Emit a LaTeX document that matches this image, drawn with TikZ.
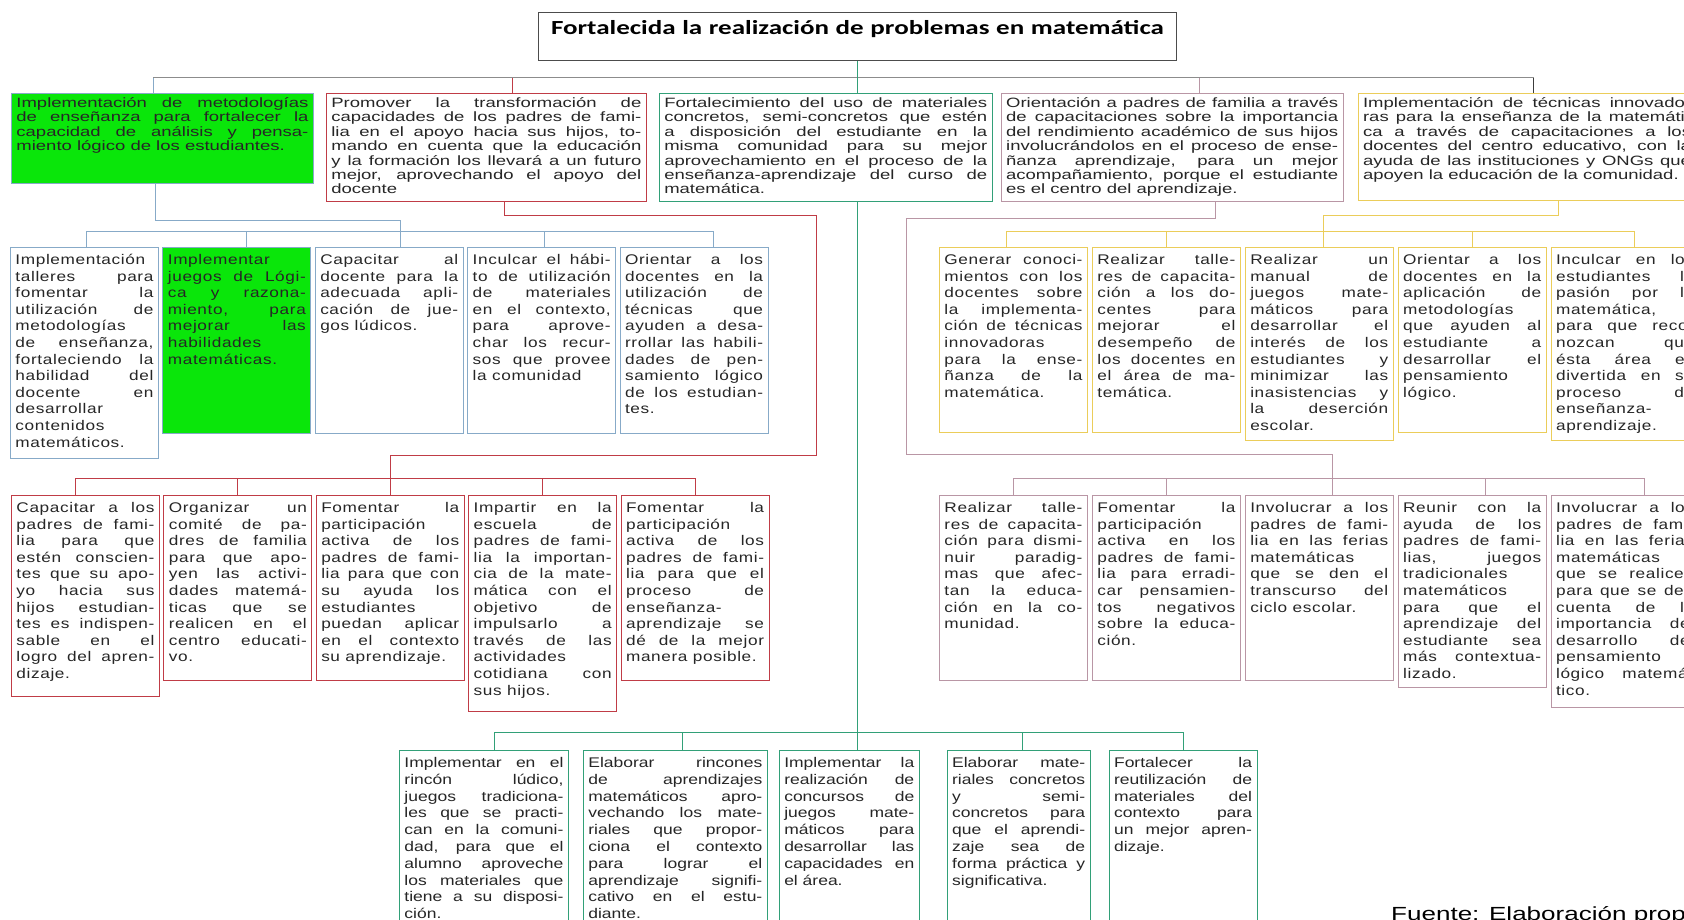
\documentclass[tikz,border=0pt]{standalone}
\usepackage{fontspec}
\setmainfont{Liberation Sans}
\newfontfamily\topfont{Liberation Sans}[FakeStretch=1.37]
\newfontfamily\midfont{Liberation Sans}[FakeStretch=1.23,LetterSpace=4.5]
\newfontfamily\lowfont{Liberation Sans}[FakeStretch=1.25]
\newfontfamily\titlefont{Carlito}[FakeStretch=1.35]
\usepackage{xcolor}
\usepackage{tikz}
\usetikzlibrary{positioning}
\definecolor{blueline}{RGB}{135,170,200}
\definecolor{redline}{RGB}{192,60,70}
\definecolor{tealline}{RGB}{50,160,120}
\definecolor{mauveline}{RGB}{185,150,165}
\definecolor{yellowline}{RGB}{235,205,90}
\definecolor{darkline}{RGB}{60,60,60}
\definecolor{busgray}{RGB}{140,140,140}
\definecolor{fillgreen}{RGB}{10,230,10}
\hyphenpenalty=10000
\exhyphenpenalty=10000
\tolerance=10000
\hbadness=10000
\tikzstyle{plainbox} = [rectangle, draw, anchor=north west, align=justify,
    inner xsep=5pt, inner ysep=5pt, text height=12pt, text=black!85, line width=0.9pt]
\tikzstyle{titlebox} = [rectangle, draw=black!70, anchor=north west, align=center,
    text width=628pt, inner xsep=5pt, inner ysep=4pt, text height=18pt, text depth=22pt,
    font=\titlefont\fontsize{20}{24}\selectfont\bfseries, line width=0.9pt]
\tikzstyle{toprow} = [plainbox, inner ysep=4pt, text height=10pt,
    font=\topfont\fontsize{13.5}{14.4}\selectfont]
\tikzstyle{midrow} = [plainbox, font=\midfont\fontsize{14}{16.6}\selectfont]
\tikzstyle{lowrow} = [plainbox, font=\lowfont\fontsize{14}{16.8}\selectfont]
\tikzstyle{bluebox} = [draw=blueline]
\tikzstyle{fillbox} = [draw=blueline, fill=fillgreen]
\tikzstyle{redbox} = [draw=redline]
\tikzstyle{tealbox} = [draw=tealline]
\tikzstyle{mauvebox} = [draw=mauveline]
\tikzstyle{yellowbox} = [draw=yellowline]
\tikzstyle{sourcenote} = [anchor=base west, inner sep=0pt, font=\topfont\fontsize{19}{22}\selectfont]
\tikzstyle{linkline} = [draw, line width=1pt]
\tikzstyle{graylink} = [linkline, draw=busgray]
\tikzstyle{bluelink} = [linkline, draw=blueline]
\tikzstyle{redlink} = [linkline, draw=redline]
\tikzstyle{greenlink} = [linkline, draw=tealline]
\tikzstyle{mauvelink} = [linkline, draw=mauveline]
\tikzstyle{yellowlink} = [linkline, draw=yellowline]
\tikzstyle{darklink} = [linkline, draw=darkline]

\begin{document}
\begin{tikzpicture}[x=1pt, y=-1pt, node distance=4pt, auto]
  \useasboundingbox (0,0) rectangle (1684,920);
  \clip (0,0) rectangle (1684,920);
  \fill [white] (0,0) rectangle (1684,920);

  % Place nodes
  \node [titlebox] (title) at (538,12) {Fortalecida la realización de problemas en matemática};

  \node [toprow, fillbox, text width=292pt, text depth=72pt] (b1) at (11,93)
    {Implementación de metodologías\linebreak de enseñanza para fortalecer la\linebreak
     capacidad de análisis y pensa-\linebreak miento lógico de los estudiantes.};
  \node [toprow, redbox, text width=310pt, text depth=90pt, below right=0pt and 12pt of b1.north east] (b2)
    {Promover la transformación de\linebreak capacidades de los padres de fami-\linebreak
     lia en el apoyo hacia sus hijos, to-\linebreak mando en cuenta que la educación\linebreak
     y la formación los llevará a un futuro\linebreak mejor, aprovechando el apoyo del\linebreak docente};
  \node [toprow, tealbox, text width=323pt, text depth=90pt, below right=0pt and 12pt of b2.north east] (b3)
    {Fortalecimiento del uso de materiales\linebreak concretos, semi-concretos que estén\linebreak
     a disposición del estudiante en la\linebreak misma comunidad para su mejor\linebreak
     aprovechamiento en el proceso de la\linebreak enseñanza-aprendizaje del curso de\linebreak matemática.};
  \node [toprow, mauvebox, text width=332pt, text depth=90pt, below right=0pt and 8pt of b3.north east] (b4)
    {Orientación a padres de familia a través\linebreak de capacitaciones sobre la importancia\linebreak
     del rendimiento académico de sus hijos\linebreak involucrándolos en el proceso de ense-\linebreak
     ñanza aprendizaje, para un mejor\linebreak acompañamiento, porque el estudiante\linebreak
     es el centro del aprendizaje.};
  \node [toprow, yellowbox, text width=328pt, text depth=89pt, below right=0pt and 14pt of b4.north east] (b5)
    {Implementación de técnicas innovado-\linebreak ras para la enseñanza de la matemáti-\linebreak
     ca a través de capacitaciones a los\linebreak docentes del centro educativo, con la\linebreak
     ayuda de las instituciones y ONGs que\linebreak apoyen la educación de la comunidad.};

  \node [midrow, bluebox, text width=138pt, text depth=189pt] (l1) at (10,247)
    {Implementación\linebreak talleres para\linebreak fomentar la\linebreak utilización de\linebreak
     metodologías\linebreak de enseñanza,\linebreak fortaleciendo la\linebreak habilidad del\linebreak
     docente en\linebreak desarrollar\linebreak contenidos\linebreak matemáticos.};
  \node [midrow, fillbox, text width=138pt, text depth=164pt, below right=0pt and 3.5pt of l1.north east] (l2)
    {Implementar\linebreak juegos de Lógi-\linebreak ca y razona-\linebreak miento, para\linebreak
     mejorar las\linebreak habilidades\linebreak matemáticas.};
  \node [midrow, bluebox, text width=138pt, text depth=164pt, below right=0pt and 3.5pt of l2.north east] (l3)
    {Capacitar al\linebreak docente para la\linebreak adecuada apli-\linebreak cación de jue-\linebreak gos lúdicos.};
  \node [midrow, bluebox, text width=138pt, text depth=164pt, below right=0pt and 3.5pt of l3.north east] (l4)
    {Inculcar el hábi-\linebreak to de utilización\linebreak de materiales\linebreak en el contexto,\linebreak
     para aprove-\linebreak char los recur-\linebreak sos que provee\linebreak la comunidad};
  \node [midrow, bluebox, text width=138pt, text depth=164pt, below right=0pt and 3.5pt of l4.north east] (l5)
    {Orientar a los\linebreak docentes en la\linebreak utilización de\linebreak técnicas que\linebreak
     ayuden a desa-\linebreak rrollar las habili-\linebreak dades de pen-\linebreak samiento lógico\linebreak
     de los estudian-\linebreak tes.};

  \node [midrow, yellowbox, text width=138pt, text depth=163pt] (r1) at (939,247)
    {Generar conoci-\linebreak mientos con los\linebreak docentes sobre\linebreak la implementa-\linebreak
     ción de técnicas\linebreak innovadoras\linebreak para la ense-\linebreak ñanza de la\linebreak matemática.};
  \node [midrow, yellowbox, text width=138pt, text depth=163pt, below right=0pt and 4pt of r1.north east] (r2)
    {Realizar talle-\linebreak res de capacita-\linebreak ción a los do-\linebreak centes para\linebreak
     mejorar el\linebreak desempeño de\linebreak los docentes en\linebreak el área de ma-\linebreak temática.};
  \node [midrow, yellowbox, text width=138pt, text depth=171pt, below right=0pt and 4pt of r2.north east] (r3)
    {Realizar un\linebreak manual de\linebreak juegos mate-\linebreak máticos para\linebreak
     desarrollar el\linebreak interés de los\linebreak estudiantes y\linebreak minimizar las\linebreak
     inasistencias y\linebreak la deserción\linebreak escolar.};
  \node [midrow, yellowbox, text width=138pt, text depth=163pt, below right=0pt and 4pt of r3.north east] (r4)
    {Orientar a los\linebreak docentes en la\linebreak aplicación de\linebreak metodologías\linebreak
     que ayuden al\linebreak estudiante a\linebreak desarrollar el\linebreak pensamiento\linebreak lógico.};
  \node [midrow, yellowbox, text width=138pt, text depth=171pt, below right=0pt and 4pt of r4.north east] (r5)
    {Inculcar en los\linebreak estudiantes la\linebreak pasión por la\linebreak matemática,\linebreak
     para que reco-\linebreak nozcan que\linebreak ésta área es\linebreak divertida en su\linebreak
     proceso de\linebreak enseñanza-\linebreak aprendizaje.};

  \node [midrow, redbox, text width=138pt, text depth=179pt] (e1) at (11,495)
    {Capacitar a los\linebreak padres de fami-\linebreak lia para que\linebreak estén conscien-\linebreak
     tes que su apo-\linebreak yo hacia sus\linebreak hijos estudian-\linebreak tes es indispen-\linebreak
     sable en el\linebreak logro del apren-\linebreak dizaje.};
  \node [midrow, redbox, text width=138pt, text depth=163pt, below right=0pt and 3.5pt of e1.north east] (e2)
    {Organizar un\linebreak comité de pa-\linebreak dres de familia\linebreak para que apo-\linebreak
     yen las activi-\linebreak dades matemá-\linebreak ticas que se\linebreak realicen en el\linebreak
     centro educati-\linebreak vo.};
  \node [midrow, redbox, text width=138pt, text depth=163pt, below right=0pt and 3.5pt of e2.north east] (e3)
    {Fomentar la\linebreak participación\linebreak activa de los\linebreak padres de fami-\linebreak
     lia para que con\linebreak su ayuda los\linebreak estudiantes\linebreak puedan aplicar\linebreak
     en el contexto\linebreak su aprendizaje.};
  \node [midrow, redbox, text width=138pt, text depth=194pt, below right=0pt and 3.5pt of e3.north east] (e4)
    {Impartir en la\linebreak escuela de\linebreak padres de fami-\linebreak lia la importan-\linebreak
     cia de la mate-\linebreak mática con el\linebreak objetivo de\linebreak impulsarlo a\linebreak
     través de las\linebreak actividades\linebreak cotidiana con\linebreak sus hijos.};
  \node [midrow, redbox, text width=138pt, text depth=163pt, below right=0pt and 3.5pt of e4.north east] (e5)
    {Fomentar la\linebreak participación\linebreak activa de los\linebreak padres de fami-\linebreak
     lia para que el\linebreak proceso de\linebreak enseñanza-\linebreak aprendizaje se\linebreak
     dé de la mejor\linebreak manera posible.};

  \node [midrow, mauvebox, text width=138pt, text depth=163pt] (m1) at (939,495)
    {Realizar talle-\linebreak res de capacita-\linebreak ción para dismi-\linebreak nuir paradig-\linebreak
     mas que afec-\linebreak tan la educa-\linebreak ción en la co-\linebreak munidad.};
  \node [midrow, mauvebox, text width=138pt, text depth=163pt, below right=0pt and 4pt of m1.north east] (m2)
    {Fomentar la\linebreak participación\linebreak activa en los\linebreak padres de fami-\linebreak
     lia para erradi-\linebreak car pensamien-\linebreak tos negativos\linebreak sobre la educa-\linebreak ción.};
  \node [midrow, mauvebox, text width=138pt, text depth=163pt, below right=0pt and 4pt of m2.north east] (m3)
    {Involucrar a los\linebreak padres de fami-\linebreak lia en las ferias\linebreak matemáticas\linebreak
     que se den el\linebreak transcurso del\linebreak ciclo escolar.};
  \node [midrow, mauvebox, text width=138pt, text depth=170pt, below right=0pt and 4pt of m3.north east] (m4)
    {Reunir con la\linebreak ayuda de los\linebreak padres de fami-\linebreak lias, juegos\linebreak
     tradicionales\linebreak matemáticos\linebreak para que el\linebreak aprendizaje del\linebreak
     estudiante sea\linebreak más contextua-\linebreak lizado.};
  \node [midrow, mauvebox, text width=138pt, text depth=190pt, below right=0pt and 4pt of m4.north east] (m5)
    {Involucrar a los\linebreak padres de fami-\linebreak lia en las ferias\linebreak matemáticas\linebreak
     que se realicen\linebreak para que se den\linebreak cuenta de la\linebreak importancia del\linebreak
     desarrollo del\linebreak pensamiento\linebreak lógico matemá-\linebreak tico.};

  \node [lowrow, tealbox, text width=159pt, text depth=158pt] (n1) at (399,750)
    {Implementar en el\linebreak rincón lúdico,\linebreak juegos tradiciona-\linebreak les que se practi-\linebreak
     can en la comuni-\linebreak dad, para que el\linebreak alumno aproveche\linebreak los materiales que\linebreak
     tiene a su disposi-\linebreak ción.};
  \node [lowrow, tealbox, text width=174pt, text depth=158pt, below right=0pt and 14pt of n1.north east] (n2)
    {Elaborar rincones\linebreak de aprendizajes\linebreak matemáticos apro-\linebreak vechando los mate-\linebreak
     riales que propor-\linebreak ciona el contexto\linebreak para lograr el\linebreak aprendizaje signifi-\linebreak
     cativo en el estu-\linebreak diante.};
  \node [lowrow, tealbox, text width=130pt, text depth=158pt, below right=0pt and 11pt of n2.north east] (n3)
    {Implementar la\linebreak realización de\linebreak concursos de\linebreak juegos mate-\linebreak
     máticos para\linebreak desarrollar las\linebreak capacidades en\linebreak el área.};
  \node [lowrow, tealbox, text width=133pt, text depth=158pt, below right=0pt and 27pt of n3.north east] (n4)
    {Elaborar mate-\linebreak riales concretos\linebreak y semi-\linebreak concretos para\linebreak
     que el aprendi-\linebreak zaje sea de\linebreak forma práctica y\linebreak significativa.};
  \node [lowrow, tealbox, text width=138pt, text depth=158pt, below right=0pt and 18pt of n4.north east] (n5)
    {Fortalecer la\linebreak reutilización de\linebreak materiales del\linebreak contexto para\linebreak
     un mejor apren-\linebreak dizaje.};

  \node [sourcenote] (fuente) at (1391,920) {Fuente: Elaboración propia};

  % top level
  \path [graylink] ([xshift=-9pt]b1.north) -- ++(0,-15) -| ([xshift=6pt]b5.north);
  \path [bluelink] ([xshift=-9pt]b1.north) -- ++(0,-15);
  \path [redlink] ([xshift=26pt]b2.north) -- ++(0,-15);
  \path [greenlink] (title.south) -- (title.south |- b3.north);
  \path [mauvelink] ([xshift=27pt]b4.north) -- ++(0,-15);
  \path [darklink] ([xshift=6pt]b5.north) -- ++(0,-15);

  % blue branch
  \path [bluelink] ([xshift=-7pt]b1.south) -- ++(0,37) -| ([xshift=11pt]l3.north);
  \path [bluelink] ([xshift=2pt]l1.north) -- ++(0,-15) -| ([xshift=19pt]l5.north);
  \path [bluelink] ([xshift=10pt]l2.north) -- ++(0,-15);
  \path [bluelink] ([xshift=3pt]l4.north) -- ++(0,-15);

  % red branch
  \path [redlink] ([xshift=18pt]b2.south) -- ++(0,14) -- ++(312,0) -- ++(0,240) -| (e3.north);
  \path [redlink] ([xshift=-10pt]e1.north) -- ++(0,-17) -| (e5.north);
  \path [redlink] (e2.north) -- ++(0,-17);
  \path [redlink] (e4.north) -- ++(0,-17);

  % green branch
  \path [greenlink] (b3.south -| title.south) -- (n3.north -| title.south);
  \path [greenlink] ([xshift=11pt]n1.north) -- ++(0,-18) -| (n5.north);
  \path [greenlink] ([xshift=7pt]n2.north) -- ++(0,-18);
  \path [greenlink] ([xshift=4pt]n4.north) -- ++(0,-18);

  % mauve branch
  \path [mauvelink] ([xshift=43pt]b4.south) -- ++(0,17) -- ++(-309,0) -- ++(0,236) -| ([xshift=13pt]m3.north);
  \path [mauvelink] (m1.north) -- ++(0,-17) -| ([xshift=19pt]m5.north);
  \path [mauvelink] (m2.north) -- ++(0,-17);
  \path [mauvelink] ([xshift=13pt]m4.north) -- ++(0,-17);

  % yellow branch
  \path [yellowlink] ([xshift=31pt]b5.south) -- ++(0,15) -| ([xshift=4pt]r3.north);
  \path [yellowlink] ([xshift=-7pt]r1.north) -- ++(0,-15) -| ([xshift=9pt]r5.north);
  \path [yellowlink] (r2.north) -- ++(0,-15);
  \path [yellowlink] (r4.north) -- ++(0,-15);
\end{tikzpicture}
\end{document}
